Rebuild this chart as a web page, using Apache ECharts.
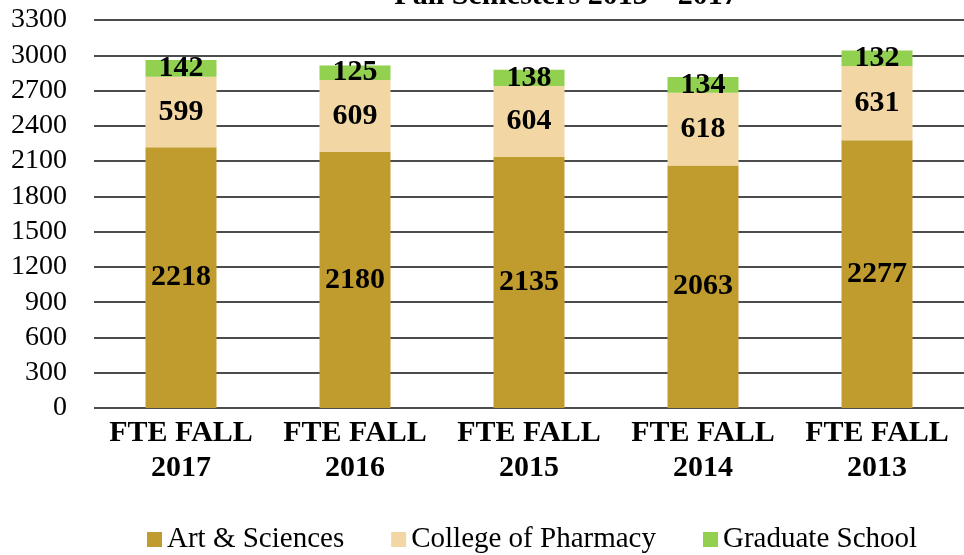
<!DOCTYPE html>
<html>
<head>
<meta charset="utf-8">
<script src="https://cdn.jsdelivr.net/npm/echarts@6/dist/echarts.min.js"></script>
<style>
  html, body { margin: 0; padding: 0; background: #fff; }
  #chart { width: 964px; height: 555px; }
</style>
</head>
<body>
<div id="chart"></div>
<script>
// FTE enrollment by college, fall semesters
const categories = ['FTE FALL\n2017', 'FTE FALL\n2016', 'FTE FALL\n2015', 'FTE FALL\n2014', 'FTE FALL\n2013'];
const artsSciences = [2218, 2180, 2135, 2063, 2277];
const pharmacy = [599, 609, 604, 618, 631];
const graduate = [142, 125, 138, 134, 132];
const yTicks = { min: 0, max: 3300, interval: 300 };
const chartTitle = 'Fall Semesters 2013 \u2013 2017';

const serif = '"Liberation Serif", "Times New Roman", serif';

const labelStyle = {
  show: true,
  position: 'inside',
  color: '#000',
  fontFamily: serif,
  fontWeight: 'bold',
  fontSize: 30
};

function stackSeries(name, data, color) {
  return {
    name: name,
    type: 'bar',
    stack: 'fte',
    barWidth: 71,
    data: data,
    itemStyle: { color: color },
    label: labelStyle
  };
}

const chart = echarts.init(document.getElementById('chart'));
chart.setOption({
  animation: false,
  graphic: [{
    type: 'text',
    x: 566,
    y: -19,
    z: 10,
    style: {
      text: chartTitle,
      textAlign: 'center',
      textVerticalAlign: 'top',
      fontFamily: serif,
      fontWeight: 'bold',
      fontSize: 30,
      fill: '#000'
    }
  }],
  grid: { left: 94, right: -12, top: 20, bottom: 147, containLabel: false },
  legend: {
    top: 520,
    left: 142,
    itemWidth: 15,
    itemHeight: 15,
    itemGap: 47,
    icon: 'rect',
    textStyle: { fontFamily: serif, fontSize: 29, color: '#000' }
  },
  xAxis: {
    type: 'category',
    data: categories,
    axisTick: { show: false },
    axisLine: { show: false },
    axisLabel: {
      interval: 0,
      fontFamily: serif, fontWeight: 'bold', fontSize: 30, color: '#000',
      lineHeight: 35, margin: 8
    }
  },
  yAxis: {
    type: 'value',
    min: yTicks.min,
    max: yTicks.max,
    interval: yTicks.interval,
    axisLine: { show: false },
    axisTick: { show: false },
    axisLabel: {
      fontFamily: serif, fontSize: 28, color: '#000', margin: 27,
      formatter: function (v) { return String(v); }
    },
    splitLine: { lineStyle: { color: '#111', width: 1.6 } }
  },
  series: [
    stackSeries('Art & Sciences', artsSciences, '#C09B2D'),
    stackSeries('College of Pharmacy', pharmacy, '#F2D6A4'),
    stackSeries('Graduate School', graduate, '#92D050')
  ]
});
</script>
</body>
</html>
